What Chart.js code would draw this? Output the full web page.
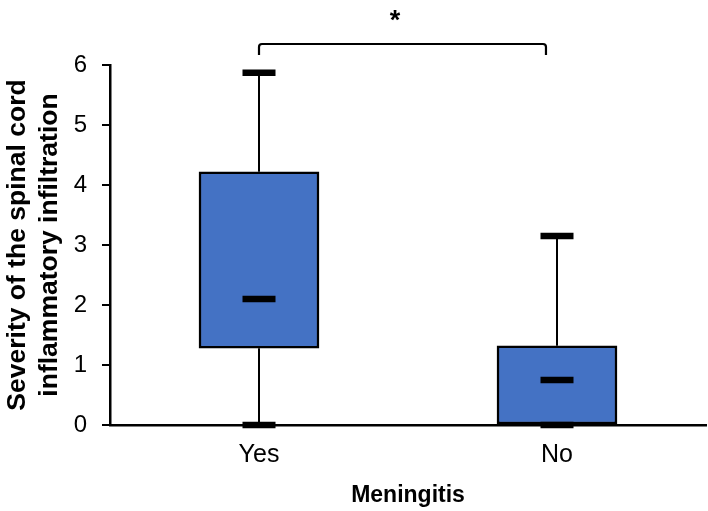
<!DOCTYPE html>
<html>
<head>
<meta charset="utf-8">
<script src="https://cdn.jsdelivr.net/npm/chart.js@4.4.1/dist/chart.umd.min.js"></script>
<style>
  html, body { margin: 0; padding: 0; background: #ffffff; }
  #wrap { width: 708px; height: 511px; }
</style>
</head>
<body>
<div id="wrap"><canvas id="c" width="708" height="511"></canvas></div>
<script>
// Spinal cord inflammation severity, grouped by meningitis status
const groups = ['Yes', 'No'];
const minVals = [0, 0];
const q1Vals = [1.28, 0];
const medianVals = [2.1, 0.75];
const q3Vals = [4.22, 1.32];
const maxVals = [5.87, 3.15];
const yTicks = [0, 1, 2, 3, 4, 5, 6];
// significance bracket between the two groups (x in category units)
const bracketLevel = 6.35;
const bracketFrom = 0;
const bracketTo = 0.963;
const starAt = 0.456;
const bracketLabel = '*';

const FONT = "'Liberation Sans', Arial, sans-serif";

// whiskers behind the boxes, bracket and star above the plot
const boxExtras = {
  id: 'boxExtras',
  beforeDatasetsDraw(chart) {
    const { ctx, scales: { x, y } } = chart;
    ctx.save();
    ctx.strokeStyle = '#000';
    ctx.lineWidth = 2;
    groups.forEach((g, i) => {
      const px = Math.round(x.getPixelForValue(i));
      ctx.beginPath();
      ctx.moveTo(px, y.getPixelForValue(maxVals[i]));
      ctx.lineTo(px, y.getPixelForValue(q3Vals[i]));
      ctx.moveTo(px, y.getPixelForValue(q1Vals[i]));
      ctx.lineTo(px, y.getPixelForValue(minVals[i]));
      ctx.stroke();
    });
    ctx.restore();
  },
  afterDraw(chart) {
    const { ctx, scales: { x, y } } = chart;
    const x0 = x.getPixelForValue(bracketFrom);
    const x1 = x.getPixelForValue(bracketTo);
    const yb = y.getPixelForValue(bracketLevel);
    ctx.save();
    ctx.strokeStyle = '#000';
    ctx.lineWidth = 2.2;
    ctx.beginPath();
    ctx.moveTo(x0, yb + 11);
    ctx.lineTo(x0, yb + 3);
    ctx.quadraticCurveTo(x0, yb, x0 + 3, yb);
    ctx.lineTo(x1 - 3, yb);
    ctx.quadraticCurveTo(x1, yb, x1, yb + 3);
    ctx.lineTo(x1, yb + 11);
    ctx.stroke();
    ctx.fillStyle = '#000';
    ctx.font = 'bold 27px ' + FONT;
    ctx.textAlign = 'center';
    ctx.textBaseline = 'middle';
    ctx.fillText(bracketLabel, x.getPixelForValue(starAt), yb - 22);
    ctx.restore();
  }
};

const capStyle = {
  type: 'line',
  showLine: false,
  pointStyle: 'line',
  pointRadius: 16.5,
  pointHoverRadius: 16.5,
  pointBorderWidth: 6.5,
  pointHoverBorderWidth: 6.5,
  borderColor: '#000',
  backgroundColor: '#000',
  clip: false,
  order: 1
};

new Chart(document.getElementById('c'), {
  type: 'bar',
  data: {
    labels: groups,
    datasets: [
      {
        label: 'IQR',
        data: q1Vals.map((v, i) => [v, q3Vals[i]]),
        backgroundColor: '#4472C4',
        borderColor: '#000',
        borderWidth: 2.5,
        borderSkipped: false,
        barThickness: 120,
        order: 3
      },
      Object.assign({ label: 'Median', data: medianVals }, capStyle),
      Object.assign({ label: 'Maximum', data: maxVals }, capStyle),
      Object.assign({ label: 'Minimum', data: minVals }, capStyle)
    ]
  },
  options: {
    responsive: false,
    animation: false,
    events: [],
    layout: { autoPadding: false, padding: { top: 65, right: 2, left: 0, bottom: 0 } },
    plugins: {
      legend: { display: false },
      tooltip: { enabled: false }
    },
    scales: {
      x: {
        offset: true,
        afterFit(axis) {
          axis.height = 86;
          axis.paddingLeft = 0;
          axis.paddingRight = 0;
        },
        grid: { display: false, drawTicks: false },
        border: { display: true, color: '#000', width: 2.5 },
        ticks: { color: '#000', font: { family: FONT, size: 25 }, padding: 15 },
        title: {
          display: true,
          text: 'Meningitis',
          color: '#000',
          font: { family: FONT, size: 23, weight: 'bold' },
          padding: { top: 0, bottom: 2 }
        }
      },
      y: {
        min: 0,
        max: 6,
        afterBuildTicks(axis) { axis.ticks = yTicks.map(v => ({ value: v })); },
        afterFit(axis) {
          axis.width = 110;
          axis.paddingTop = 0;
          axis.paddingBottom = 0;
        },
        grid: { drawOnChartArea: false, drawTicks: true, tickLength: 8, color: '#000', lineWidth: 2 },
        border: { display: true, color: '#000', width: 2.5 },
        ticks: { color: '#000', font: { family: FONT, size: 24 }, padding: 15 },
        title: {
          display: true,
          text: ['Severity of the spinal cord', 'inflammatory infiltration'],
          color: '#000',
          font: { family: FONT, size: 26.5, weight: 'bold', lineHeight: 1.23 },
          padding: { top: 1, bottom: 0 }
        }
      }
    }
  },
  plugins: [boxExtras]
});
</script>
</body>
</html>
